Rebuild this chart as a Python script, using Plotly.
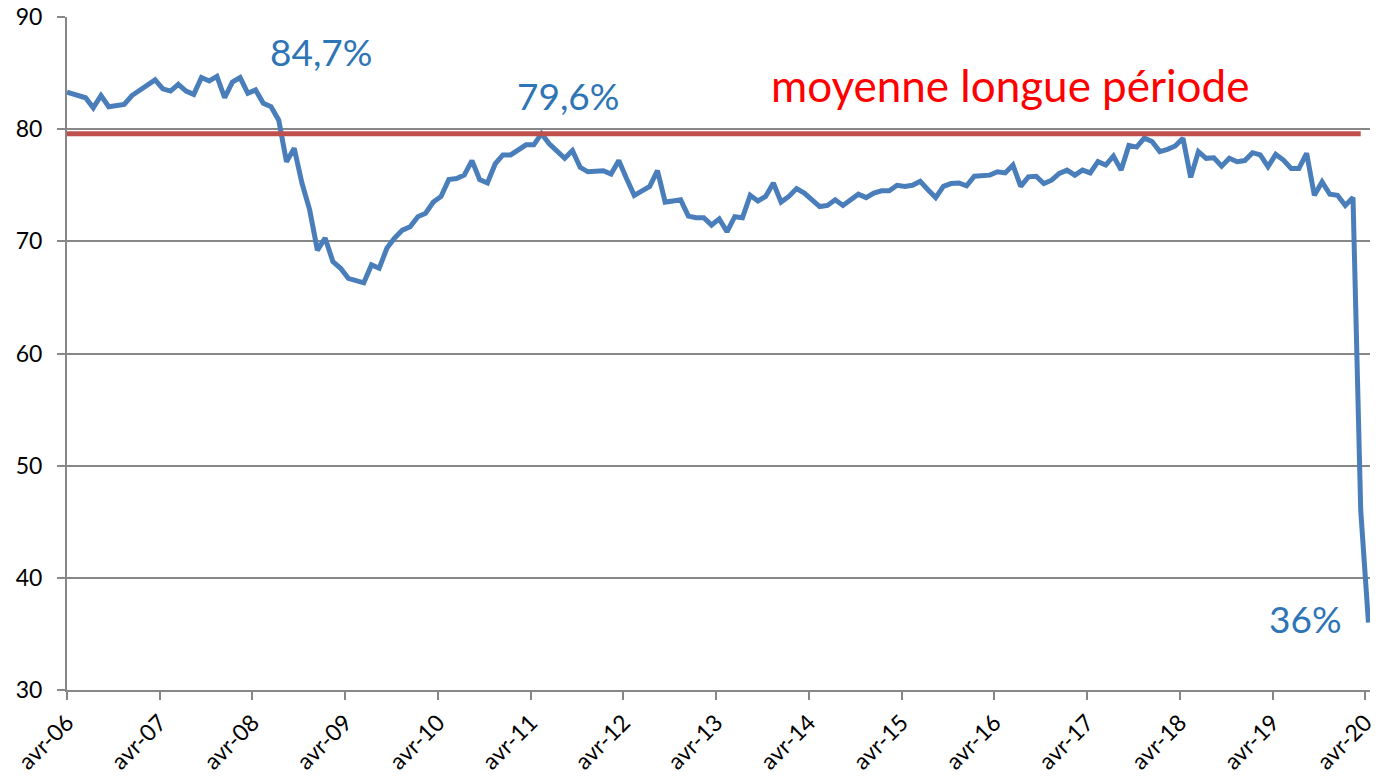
import plotly.graph_objects as go

# Monthly series, April 2006 (index 0) to April 2020 (index 168)
values = [
    83.3, 83.0, 82.8, 81.9, 83.0, 82.0, 82.1, 82.2, 83.0, 83.5, 83.9, 84.4,   # avr-06 .. mars-07
    83.6, 83.4, 84.0, 83.4, 83.1, 84.6, 84.3, 84.7, 82.8, 84.2, 84.6, 83.2,   # avr-07 .. mars-08
    83.5, 82.3, 82.0, 80.8, 77.1, 78.3, 75.2, 72.8, 69.2, 70.3, 68.2, 67.6,   # avr-08 .. mars-09
    66.7, 66.5, 66.3, 67.9, 67.6, 69.4, 70.3, 71.0, 71.3, 72.2, 72.5, 73.5,   # avr-09 .. mars-10
    74.0, 75.5, 75.6, 75.9, 77.2, 75.5, 75.2, 76.9, 77.7, 77.7, 78.2, 78.6,   # avr-10 .. mars-11
    78.6, 79.6, 78.7, 78.0, 77.4, 78.1, 76.6, 76.2, 76.3, 76.3, 76.0, 77.2,   # avr-11 .. mars-12
    75.6, 74.1, 74.5, 74.9, 76.3, 73.5, 73.6, 73.7, 72.25, 72.1, 72.1, 71.45, # avr-12 .. mars-13
    72.0, 70.85, 72.2, 72.1, 74.1, 73.6, 74.0, 75.2, 73.5, 74.0, 74.7, 74.3,  # avr-13 .. mars-14
    73.7, 73.1, 73.2, 73.7, 73.2, 73.7, 74.2, 73.9, 74.3, 74.5, 74.5, 75.0,   # avr-14 .. mars-15
    74.9, 75.0, 75.35, 74.6, 73.9, 74.9, 75.15, 75.2, 74.95, 75.8, 75.8, 75.9, # avr-15 .. mars-16
    76.2, 76.1, 76.8, 74.9, 75.75, 75.8, 75.15, 75.45, 76.05, 76.35, 75.9, 76.35, # avr-16 .. mars-17
    76.1, 77.1, 76.8, 77.6, 76.35, 78.55, 78.4, 79.2, 78.9, 78.0, 78.2, 78.5, # avr-17 .. mars-18
    79.2, 75.7, 78.0, 77.4, 77.45, 76.7, 77.4, 77.1, 77.2, 77.9, 77.7, 76.65, # avr-18 .. mars-19
    77.75, 77.25, 76.5, 76.5, 77.85, 74.1, 75.3, 74.2, 74.1, 73.2, 73.9, 46.0, # avr-19 .. mars-20
    36.0,                                                                       # avr-20
]
# month index (0 = avr-06); points sit slightly after the month tick, first point on the axis
months = [0.0] + [m + 0.4 for m in range(1, len(values))]

long_run_mean = 79.6
mean_months = [0.0] + [m + 0.4 for m in range(1, len(values) - 1)]
mean_values = [long_run_mean] * len(mean_months)

tick_positions = list(range(0, 169, 12))
tick_labels = ["avr-%02d" % (y % 100) for y in range(2006, 2021)]

y_ticks = [30, 40, 50, 60, 70, 80, 90]

BLUE = "#4a7ebb"
RED_LINE = "#c0504d"
LABEL_BLUE = "#2e75b6"
GRID = "#878787"
FONT = "Lato"

fig = go.Figure()
fig.add_trace(go.Scatter(
    x=months, y=values, mode="lines",
    line=dict(color=BLUE, width=5), hoverinfo="skip", showlegend=False,
))
fig.add_trace(go.Scatter(
    x=mean_months, y=mean_values, mode="lines",
    line=dict(color=RED_LINE, width=5), hoverinfo="skip", showlegend=False,
))

annots = [
    dict(x=32.9, y=86.9, text="84,7%", color=LABEL_BLUE, size=37),
    dict(x=64.8, y=83.0, text="79,6%", color=LABEL_BLUE, size=37),
    dict(x=122.0, y=83.9, text="moyenne longue période", color="#ff0000", size=44),
    dict(x=160.3, y=36.4, text="36%", color=LABEL_BLUE, size=37),
]
for a in annots:
    fig.add_annotation(
        x=a["x"], y=a["y"], xref="x", yref="y", text=a["text"], showarrow=False,
        font=dict(family=FONT, size=a["size"], color=a["color"]),
        xanchor="center", yanchor="middle",
    )

fig.update_layout(
    width=1380, height=776,
    margin=dict(l=67, r=10, t=17, b=86, autoexpand=False),
    plot_bgcolor="white", paper_bgcolor="white",
    font=dict(family=FONT, size=23, color="#000000"),
)
fig.update_xaxes(
    range=[0, 168.6], tickmode="array", tickvals=tick_positions, ticktext=tick_labels,
    tickangle=-45, ticks="outside", ticklen=8, tickwidth=2, tickcolor=GRID,
    showline=True, linecolor=GRID, linewidth=2, showgrid=False, zeroline=False,
    tickfont=dict(family=FONT, size=23, color="#000000"),
    ticklabeloverflow="allow", automargin=False,
)
fig.update_yaxes(
    range=[30, 90], tickmode="array", tickvals=y_ticks,
    ticks="outside", ticklen=8, tickwidth=2, tickcolor=GRID,
    showline=True, linecolor=GRID, linewidth=2,
    showgrid=True, gridcolor=GRID, gridwidth=2, zeroline=False,
    tickfont=dict(family=FONT, size=23, color="#000000"),
    ticklabelstandoff=10, automargin=False,
)

fig.write_html(
    "out.html",
    config={"displayModeBar": False},
    post_script="document.body.style.margin='0';document.body.style.overflow='hidden';",
)
